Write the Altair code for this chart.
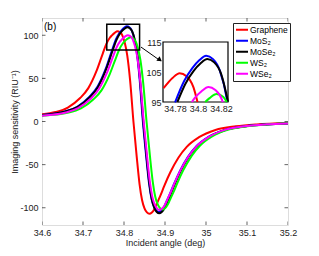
import altair as alt
import pandas as pd

# ---------------- data ----------------
series = ["Graphene", "MoS\u2082", "MoSe\u2082", "WS\u2082", "WSe\u2082"]
colors = ["#ff0000", "#0000ff", "#000000", "#00ff00", "#ff00ff"]

red_x = [34.600, 34.633, 34.663, 34.693, 34.713, 34.733, 34.748, 34.757, 34.765, 34.770,
         34.778, 34.784, 34.790, 34.796, 34.7995, 34.802, 34.808, 34.815, 34.823, 34.831,
         34.838, 34.844, 34.850, 34.856, 34.862, 34.868, 34.874, 34.881, 34.889, 34.898,
         34.913, 34.933, 34.953, 34.983, 35.023, 35.073, 35.123, 35.200]
red_v = [8.4, 11.0, 16.2, 27.2, 38.7, 58.6, 78.5, 90.0, 96.8, 99.6,
         103.1, 104.6, 103.6, 99.9, 95.0, 91.0, 76.4, 47.1, 0.0, -40.7,
         -72.8, -91.0, -100.6, -105.4, -107.0, -105.4, -101.7, -94.2, -85.6, -74.9,
         -58.9, -41.7, -29.4, -18.2, -9.8, -5.6, -3.4, -1.8]

blue_x = [34.600, 34.656, 34.686, 34.716, 34.736, 34.756, 34.771, 34.780, 34.788, 34.795,
          34.801, 34.807, 34.813, 34.819, 34.825, 34.8254, 34.831, 34.838, 34.846, 34.854,
          34.861, 34.867, 34.873, 34.879, 34.885, 34.891, 34.897, 34.904, 34.912, 34.921,
          34.936, 34.956, 34.976, 35.006, 35.046, 35.096, 35.146, 35.200]
blue_v = [7.5, 11.6, 17.1, 28.7, 40.8, 61.8, 82.8, 94.9, 102.1, 106.3,
          108.9, 110.4, 109.3, 105.4, 96.0, 95.0, 80.6, 49.7, 0.0, -39.9,
          -71.4, -89.3, -98.7, -103.4, -105.0, -103.4, -99.8, -92.4, -84.0, -73.5,
          -57.8, -41.0, -28.9, -17.9, -9.7, -5.5, -3.4, -2.2]

black_x = [34.600, 34.657, 34.687, 34.717, 34.737, 34.757, 34.772, 34.782, 34.789, 34.796,
           34.802, 34.808, 34.814, 34.820, 34.826, 34.832, 34.839, 34.847, 34.855, 34.862,
           34.868, 34.874, 34.880, 34.886, 34.892, 34.898, 34.905, 34.913, 34.922, 34.937,
           34.957, 34.977, 35.007, 35.047, 35.097, 35.147, 35.200]
black_v = [7.3, 11.5, 16.9, 28.4, 40.4, 61.2, 82.0, 95.0, 101.1, 105.3,
           107.8, 109.3, 108.2, 104.4, 95.1, 79.8, 49.2, 0.0, -40.5, -72.4,
           -90.5, -100.1, -104.9, -106.5, -104.9, -101.2, -93.7, -85.2, -74.6, -58.6,
           -41.5, -29.3, -18.1, -9.8, -5.5, -3.4, -2.2]

green_x = [34.600, 34.665, 34.695, 34.725, 34.745, 34.765, 34.780, 34.789, 34.797, 34.804,
           34.8062, 34.810, 34.816, 34.822, 34.825, 34.828, 34.834, 34.840, 34.847, 34.855,
           34.863, 34.870, 34.876, 34.882, 34.888, 34.894, 34.900, 34.906, 34.913, 34.921,
           34.930, 34.945, 34.965, 34.985, 35.015, 35.055, 35.105, 35.155, 35.200]
green_v = [6.6, 10.3, 15.1, 25.4, 36.1, 54.7, 73.3, 84.0, 90.4, 94.1,
           95.0, 96.3, 97.7, 96.7, 95.0, 93.3, 85.0, 71.3, 44.0, 0.0,
           -38.8, -69.4, -86.7, -95.9, -100.5, -102.0, -100.5, -96.9, -89.8, -81.6,
           -71.4, -56.1, -39.8, -28.1, -17.3, -9.4, -5.3, -3.3, -2.1]

mag_x = [34.600, 34.658, 34.688, 34.718, 34.738, 34.758, 34.773, 34.782, 34.790, 34.7946,
         34.797, 34.803, 34.809, 34.815, 34.821, 34.8214, 34.827, 34.833, 34.840, 34.848,
         34.856, 34.863, 34.869, 34.875, 34.881, 34.887, 34.893, 34.899, 34.906, 34.914,
         34.923, 34.938, 34.958, 34.978, 35.008, 35.048, 35.098, 35.148, 35.200]
mag_v = [6.8, 10.5, 15.5, 26.0, 37.0, 56.0, 75.0, 86.0, 92.5, 95.0,
         96.3, 98.6, 100.0, 99.0, 95.5, 95.0, 87.0, 73.0, 45.0, 0.0,
         -39.0, -69.7, -87.1, -96.4, -101.0, -102.5, -101.0, -97.4, -90.2, -82.0,
         -71.8, -56.4, -40.0, -28.2, -17.4, -9.4, -5.3, -3.3, -2.2]

x_ticks = [34.6, 34.7, 34.8, 34.9, 35.0, 35.1, 35.2]
y_ticks = [-100, -50, 0, 50, 100]
inset_x_ticks = [34.78, 34.8, 34.82]
inset_y_ticks = [95, 105, 115]

# ---------------- build table ----------------
rows = []
for name, xs, vs in zip(series, [red_x, blue_x, black_x, green_x, mag_x],
                        [red_v, blue_v, black_v, green_v, mag_v]):
    for a, v in zip(xs, vs):
        rows.append({"series": name, "angle": a, "s": v})
df = pd.DataFrame(rows)

FONT = "Liberation Sans"
TXT = "#222222"
W, H = 246, 207
one = pd.DataFrame({"k": [0]})

color_enc = alt.Color(
    "series:N",
    scale=alt.Scale(domain=series, range=colors),
    legend=alt.Legend(
        orient="none", legendX=191, legendY=5, title=None,
        symbolType="stroke", symbolStrokeWidth=2, symbolSize=144,
        labelFontSize=8.5, labelFont=FONT, labelColor="#000000", labelOffset=1,
        fillColor="white", strokeColor="#222222", padding=2,
        rowPadding=1, clipHeight=9.5,
    ),
)

x_main = alt.X(
    "angle:Q",
    scale=alt.Scale(domain=[34.6, 35.2], nice=False, zero=False),
    axis=alt.Axis(values=x_ticks, labelExpr="toString(datum.value)", ticks=False,
                  domain=False, grid=False, title="Incident angle (deg)",
                  labelFlush=False, labelOverlap=False, labelPadding=3, titlePadding=1,
                  labelFontSize=9, titleFontSize=9, labelFont=FONT, titleFont=FONT,
                  labelColor=TXT, titleColor=TXT, titleFontWeight="normal"),
)
y_main = alt.Y(
    "s:Q",
    scale=alt.Scale(domain=[-120, 120], nice=False, zero=False),
    axis=alt.Axis(values=y_ticks, labelExpr="toString(datum.value)", ticks=False,
                  domain=False, grid=False, title="Imaging sensitivity (RIU\u207b\u00b9)",
                  labelFlush=False, labelOverlap=False, labelPadding=4, titlePadding=0,
                  labelFontSize=9, titleFontSize=9, labelFont=FONT, titleFont=FONT,
                  labelColor=TXT, titleColor=TXT, titleFontWeight="normal"),
)

lines = alt.Chart(df).mark_line(strokeWidth=2, interpolate="monotone", clip=True).encode(
    x=x_main, y=y_main, color=color_enc, detail="series:N"
)

xt = pd.DataFrame({"angle": x_ticks})
yt = pd.DataFrame({"s": y_ticks})
tick_style = dict(size=7, thickness=1, color="#222222", clip=True)
top_ticks = alt.Chart(xt).mark_tick(orient="vertical", **tick_style).encode(
    x="angle:Q", y=alt.value(0))
bot_ticks = alt.Chart(xt).mark_tick(orient="vertical", **tick_style).encode(
    x="angle:Q", y=alt.value(H))
left_ticks = alt.Chart(yt).mark_tick(orient="horizontal", **tick_style).encode(
    y="s:Q", x=alt.value(0))
right_ticks = alt.Chart(yt).mark_tick(orient="horizontal", **tick_style).encode(
    y="s:Q", x=alt.value(W))

zoom_box = alt.Chart(one).mark_rect(fill="white", fillOpacity=0, stroke="black",
                                    strokeWidth=1.5).encode(
    x=alt.datum(34.758), x2=alt.datum(34.838), y=alt.datum(82.8), y2=alt.datum(112.7))

arrow = alt.Chart(one).mark_rule(stroke="black", strokeWidth=1).encode(
    x=alt.datum(34.8415), y=alt.datum(86.3), x2=alt.datum(34.8885), y2=alt.datum(70.5))
arrow_head = alt.Chart(one).mark_point(shape="triangle", filled=True, color="black",
                                       size=30, angle=126, opacity=1).encode(
    x=alt.datum(34.8860), y=alt.datum(72.0))

label_b = alt.Chart(one).mark_text(align="left", baseline="middle", fontSize=10,
                                   font=FONT, color="#000000").encode(
    x=alt.value(2), y=alt.value(9), text=alt.value("(b)"))

main = alt.layer(lines, top_ticks, bot_ticks, left_ticks, right_ticks,
                 zoom_box, arrow, arrow_head, label_b)

# ---------------- inset ----------------
IX0, IX1 = 34.7695, 34.826
x_in = alt.X(
    "angle:Q",
    scale=alt.Scale(domain=[IX0, IX1], range=[121, 186], nice=False, zero=False),
    axis=alt.Axis(orient="bottom", offset=-(H - 84), values=inset_x_ticks,
                  labelExpr="toString(datum.value)", ticks=False, domain=False,
                  grid=False, title=None, labelFlush=False, labelOverlap=False,
                  labelPadding=2, labelFontSize=9, labelFont=FONT, labelColor=TXT),
)
y_in = alt.Y(
    "s:Q",
    scale=alt.Scale(domain=[95, 115], range=[84, 24], nice=False, zero=False),
    axis=alt.Axis(orient="left", offset=-121, values=inset_y_ticks,
                  labelExpr="toString(datum.value)", ticks=False, domain=False,
                  grid=False, title=None, labelFlush=False, labelOverlap=False,
                  labelPadding=2, labelFontSize=9, labelFont=FONT, labelColor=TXT),
)

inset_frame = alt.Chart(one).mark_rect(fill="white", stroke="black", strokeWidth=1.2).encode(
    x=alt.datum(IX0), x2=alt.datum(IX1), y=alt.datum(95), y2=alt.datum(115))

inset_lines = alt.Chart(df).mark_line(strokeWidth=2, interpolate="monotone").encode(
    x=x_in, y=y_in, color=color_enc, detail="series:N"
).transform_filter(
    alt.FieldRangePredicate(field="angle", range=[IX0 - 0.0001, IX1 + 0.0001])
).transform_filter(
    alt.FieldGTEPredicate(field="s", gte=94.85)
)

inset = alt.layer(inset_frame, inset_lines)

chart = alt.layer(main, inset).resolve_scale(
    x="independent", y="independent"
).properties(
    width=W, height=H, autosize="none",
    padding={"left": 34, "top": 10, "right": 12, "bottom": 24},
).configure_view(stroke="black", strokeWidth=1).configure(font=FONT)

chart.save("out.html", embed_options={"renderer": "svg", "actions": False})
